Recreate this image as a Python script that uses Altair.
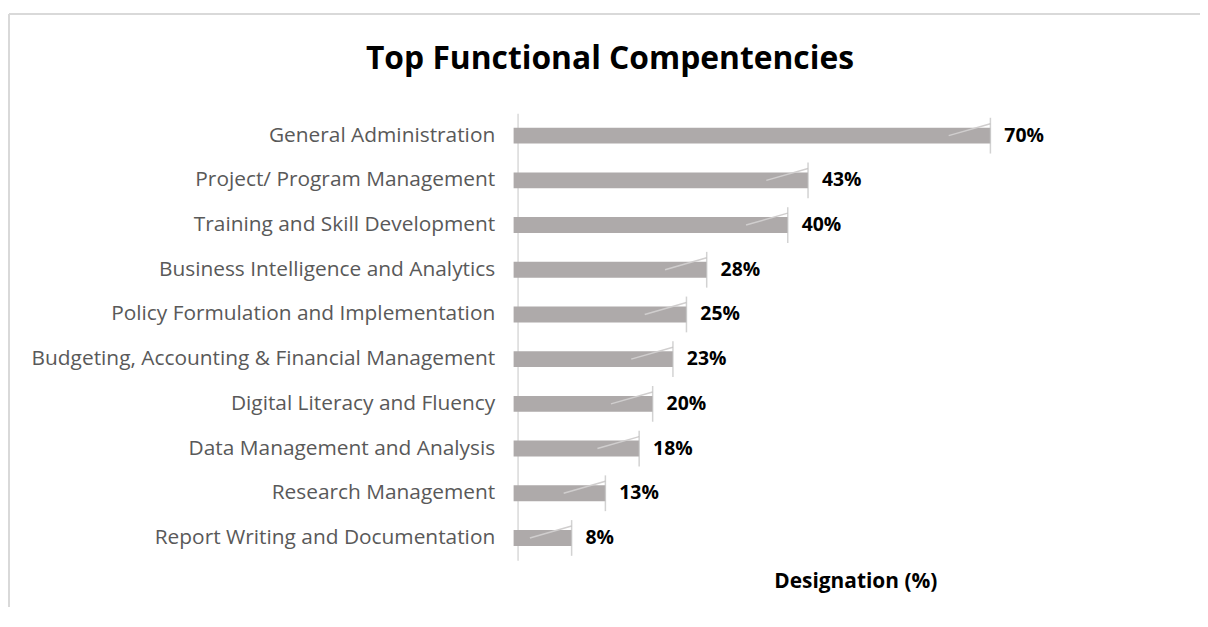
import altair as alt
import pandas as pd

title_text = "Top Functional Compentencies"
categories = [
    "General Administration",
    "Project/ Program Management",
    "Training and Skill Development",
    "Business Intelligence and Analytics",
    "Policy Formulation and Implementation",
    "Budgeting, Accounting & Financial Management",
    "Digital Literacy and Fluency",
    "Data Management and Analysis",
    "Research Management",
    "Report Writing and Documentation",
]
values = [70, 43, 40, 28, 25, 23, 20, 18, 13, 8]
labels = ["70%", "43%", "40%", "28%", "25%", "23%", "20%", "18%", "13%", "8%"]

df = pd.DataFrame({"cat": categories, "v": values, "lab": labels})

FONT = "Open Sans"
W, H = 680, 450

y_enc = alt.Y("cat:N", sort=categories, title=None,
              scale=alt.Scale(paddingInner=0.64, paddingOuter=0.32),
              axis=alt.Axis(labelFont=FONT, labelFontSize=21, labelColor="#595959",
                            labelPadding=23, ticks=False, domainColor="#d9d9d9",
                            domainWidth=1.5, labelLimit=600))
x_scale = alt.Scale(domain=[0, 100])

base = alt.Chart(df)

bars = base.mark_bar(color="#aeaaaa", x2Offset=-4, height=16).encode(
    x=alt.X("v:Q", scale=x_scale,
            axis=alt.Axis(labels=False, ticks=False, domain=False, grid=False,
                          title="Designation (%)", titleFont=FONT, titleFontSize=21,
                          titleFontWeight="bold", titleColor="#000000", titlePadding=10)),
    x2=alt.datum(0),
    y=y_enc,
)

ends = base.mark_tick(orient="vertical", size=36, thickness=1.5, color="#bfbfbf").encode(
    x=alt.X("v:Q", scale=x_scale), y=alt.Y("cat:N", sort=categories)
)

diag = base.mark_rule(color="#d0cece", strokeWidth=1.5, xOffset=-42, y2Offset=-12).encode(
    x=alt.X("v:Q", scale=x_scale), x2="v:Q",
    y=alt.Y("cat:N", sort=categories), y2="cat:N",
)

text = base.mark_text(align="left", baseline="middle", dx=14, font=FONT, fontSize=19.5,
                      fontWeight="bold", color="#000000").encode(
    x=alt.X("v:Q", scale=x_scale), y=alt.Y("cat:N", sort=categories), text="lab:N"
)

title_mark = alt.Chart(pd.DataFrame({"t": [title_text]})).mark_text(
    font=FONT, fontSize=32, fontWeight="bold", color="#000000",
    align="center", baseline="middle"
).encode(x=alt.value(-420 + 513), y=alt.value(-55), text="t:N")

frame_left = alt.Chart(df).mark_rule(color="#d9d9d9", strokeWidth=2).encode(
    x=alt.value(-512), y=alt.value(-100), y2=alt.value(H + 60)
)
frame_top = alt.Chart(df).mark_rule(color="#d9d9d9", strokeWidth=2).encode(
    x=alt.value(-512), x2=alt.value(W + 20), y=alt.value(-100)
)

chart = alt.layer(frame_left, frame_top, title_mark, bars, diag, ends, text).properties(
    width=W, height=H,
    autosize=alt.AutoSizeParams(type="none"),
    padding={"left": 513, "top": 104, "right": 7, "bottom": 45},
).configure_view(stroke=None)

chart.save("out.html", embed_options={"renderer": "svg", "actions": False})
